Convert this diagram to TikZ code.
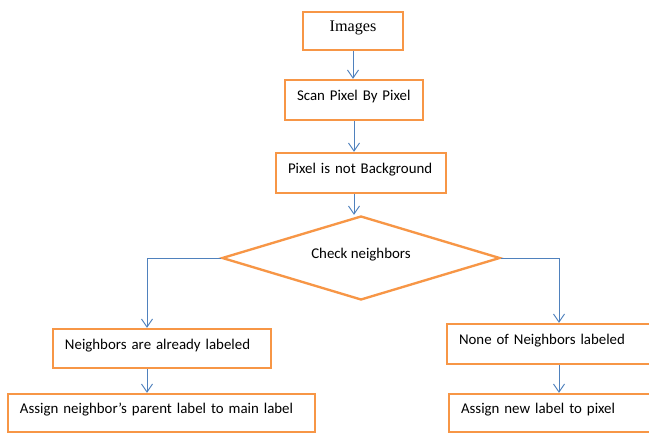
\documentclass[tikz,border=0pt]{standalone}
\usepackage{fontspec}
\setmainfont{Carlito}
\newfontfamily\timesfont{Liberation Serif}
\usetikzlibrary{arrows.meta,shapes.geometric}
\definecolor{boxorange}{RGB}{247,150,70}
\definecolor{flowblue}{RGB}{79,129,189}

\tikzset{
  stage/.style={draw=boxorange, line width=2pt, fill=white, inner sep=0pt,
    text height=0.6em, text depth=0.5em, font=\fontsize{12.7}{15}\selectfont},
  leftstage/.style={stage, align=left, inner xsep=0.36cm},
  decision/.style={stage, diamond, shape aspect=3.3},
  flow/.style={draw=flowblue, line width=0.8pt, -{Straight Barb[length=2.4mm,width=3.3mm]}},
}

\begin{document}
\begin{tikzpicture}[x=0.03cm,y=-0.03cm]
  \useasboundingbox (0,0) rectangle (649,433);
  \clip (0,0) rectangle (649,433);
  \fill[white] (0,0) rectangle (649,433);

  % boxes
  \node[stage, minimum width=3cm, minimum height=1.14cm,
    font=\timesfont\fontsize{13.8}{16}\selectfont] (images) at (353,31) {Images};
  \node[leftstage, text width=3.42cm, minimum height=1.2cm] (scan) at (354,100) {Scan Pixel By Pixel};
  \node[leftstage, text width=4.38cm, minimum height=1.2cm] (pixel) at (361,173) {Pixel is not Background};
  \node[decision, minimum width=8.34cm, minimum height=2.52cm] (check) at (361,258) {Check neighbors\hspace{0.5cm}};
  \node[leftstage, text width=5.82cm, minimum height=1.17cm] (nbr) at (162,348.5) {Neighbors are already labeled};
  \node[leftstage, text width=8.49cm, minimum height=1.14cm] (assign) at (161.5,413) {Assign neighbor’s parent label to main label};
  \node[leftstage, text width=6cm, minimum height=1.2cm] (none) at (559,344) {None of Neighbors labeled};
  \node[leftstage, text width=5.88cm, minimum height=1.14cm] (newlbl) at (559,413) {Assign new label to pixel};

  % connectors
  \draw[flow] (images.south) -- (images.south |- scan.north);
  \draw[flow] (scan.south) -- (scan.south |- pixel.north);
  \draw[flow] (scan.south |- pixel.south) -- (scan.south |- check.north);
  \draw[flow] (check.west) -| ([xshift=-0.45cm]nbr.north);
  \draw[flow] ([xshift=-0.45cm]nbr.south) -- ([xshift=-0.45cm]nbr.south |- assign.north);
  \draw[flow] (check.east) -| (none.north);
  \draw[flow] (none.south) -- (newlbl.north);
\end{tikzpicture}
\end{document}
